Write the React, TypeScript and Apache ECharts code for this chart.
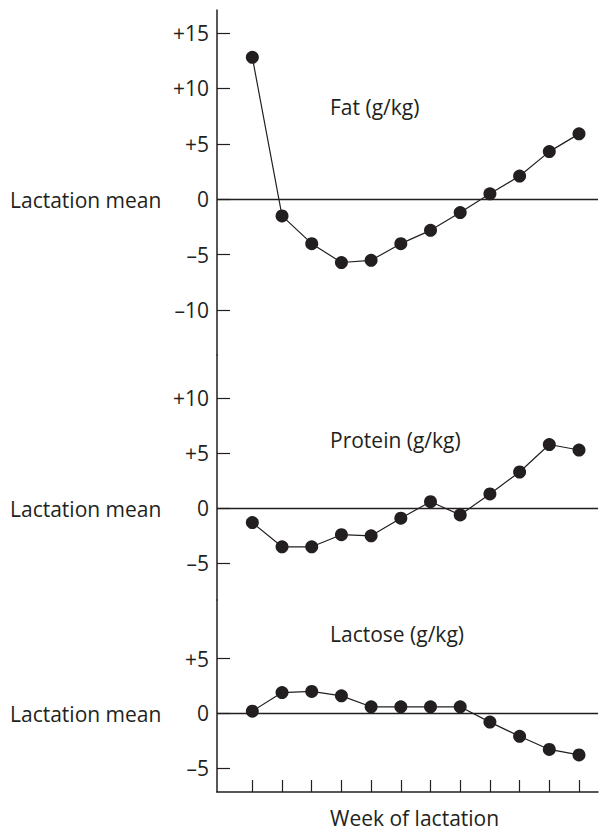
import React, { useEffect, useRef } from "react";
import * as echarts from "echarts";

const weeks = [1, 2, 3, 4, 5, 6, 7, 8, 9, 10, 11, 12];
const fatValues = [12.8, -1.5, -4.0, -5.7, -5.5, -4.0, -2.8, -1.2, 0.5, 2.1, 4.3, 5.9];
const proteinValues = [-1.3, -3.5, -3.5, -2.4, -2.5, -0.9, 0.6, -0.6, 1.3, 3.3, 5.8, 5.3];
const lactoseValues = [0.2, 1.9, 2.0, 1.6, 0.6, 0.6, 0.6, 0.6, -0.8, -2.1, -3.3, -3.8];
const fatTicks = [15, 10, 5, 0, -5, -10];
const proteinTicks = [10, 5, 0, -5];
const lactoseTicks = [5, 0, -5];
const panelTitles = ["Fat (g/kg)", "Protein (g/kg)", "Lactose (g/kg)"];
const rowLabel = "Lactation mean";
const xAxisTitle = "Week of lactation";

const INK = "#231f20";
const FONT = "'Open Sans', 'Noto Sans', sans-serif";
const FS = 21;

const fmt = (v: number) => (v > 0 ? "+" + v : v < 0 ? "\u2013" + Math.abs(v) : "0");

export default function App() {
  const ref = useRef<HTMLDivElement>(null);
  useEffect(() => {
    if (!ref.current) return;
    const chart = echarts.init(ref.current, undefined, { renderer: "svg" });
    const grids = [
      { top: 10, height: 345, ymin: -14.04, ymax: 17.07, ticks: fatTicks, data: fatValues },
      { top: 355, height: 245, ymin: -8.34, ymax: 13.94, ticks: proteinTicks, data: proteinValues },
      { top: 600, height: 192, ymin: -7.19, ymax: 10.36, ticks: lactoseTicks, data: lactoseValues },
    ];
    const zeroY = [200, 509, 714];
    const titleY = [107, 440, 634];
    const textStyle = (t: string) => ({
      text: t,
      fill: INK,
      font: `${FS}px ${FONT}`,
      verticalAlign: "middle",
      lineHeight: 22,
    });
    const option: any = {
      animation: false,
      backgroundColor: "#ffffff",
      textStyle: { fontFamily: FONT, color: INK },
      grid: grids.map((g) => ({ left: 217, right: 1, top: g.top, height: g.height, containLabel: false })),
      xAxis: grids.map((g, i) => ({
        type: "value",
        gridIndex: i,
        min: -0.19,
        max: 12.64,
        show: i === 2,
        axisLine: { show: true, onZero: false, lineStyle: { color: INK, width: 1.5 } },
        axisTick: {
          show: true,
          inside: true,
          length: 12,
          customValues: weeks,
          lineStyle: { color: INK, width: 1.2 },
        },
        axisLabel: { show: false },
        splitLine: { show: false },
      })),
      yAxis: grids.map((g, i) => ({
        type: "value",
        gridIndex: i,
        min: g.ymin,
        max: g.ymax,
        axisLine: { show: true, onZero: false, lineStyle: { color: INK, width: 1.5 } },
        axisTick: {
          show: true,
          inside: true,
          length: 13,
          customValues: g.ticks,
          lineStyle: { color: INK, width: 1.2 },
        },
        axisLabel: {
          show: true,
          customValues: g.ticks,
          formatter: (v: number) => fmt(v),
          color: INK,
          fontFamily: FONT,
          fontSize: FS,
          margin: 8,
        },
        splitLine: { show: false },
      })),
      series: grids.map((g, i) => ({
        type: "line",
        xAxisIndex: i,
        yAxisIndex: i,
        data: weeks.map((w, k) => [w, g.data[k]]),
        symbol: "circle",
        symbolSize: 13,
        itemStyle: { color: INK },
        lineStyle: { color: INK, width: 1.2 },
        markLine: {
          silent: true,
          symbol: "none",
          label: { show: false },
          lineStyle: { color: INK, width: 1.3, type: "solid" },
          data: [{ yAxis: 0 }],
        },
      })),
      graphic: [
        ...zeroY.map((y) => ({ type: "text", x: 10, y: y, style: textStyle(rowLabel) })),
        ...panelTitles.map((t, i) => ({ type: "text", x: 330, y: titleY[i], style: textStyle(t) })),
        { type: "text", x: 330, y: 818, style: textStyle(xAxisTitle) },
      ],
    };
    chart.setOption(option);
    return () => chart.dispose();
  }, []);
  return (
    <div
      ref={ref}
      style={{ position: "fixed", left: 0, top: 0, width: 599, height: 831, background: "#fff" }}
    />
  );
}
